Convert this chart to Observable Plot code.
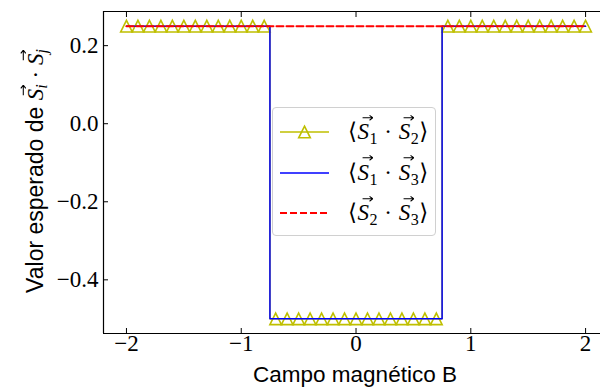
<!DOCTYPE html>
<html><head><meta charset="utf-8">
<script src="https://cdn.jsdelivr.net/npm/d3@7"></script>
<script src="https://cdn.jsdelivr.net/npm/@observablehq/plot@0.6"></script>
<style>
body{margin:0;overflow:hidden;background:#fff}
#wrap{position:relative;width:600px;height:390px;overflow:hidden}
.m{font-family:"Liberation Serif","DejaVu Serif",serif}
.v{position:relative;display:inline-block;font-style:italic;font-family:"Liberation Serif","DejaVu Serif",serif}
.v::after{content:"";position:absolute;left:0.2em;top:-0.14em;width:0.46em;height:0.3em;
  background:url("data:image/svg+xml,%3Csvg xmlns='http://www.w3.org/2000/svg' viewBox='0 0 10 6' preserveAspectRatio='none'%3E%3Cpath d='M0.5 3.2H9.2M6.6 1.1L9.4 3.2L6.6 5.3' fill='none' stroke='black' stroke-width='0.9'/%3E%3C/svg%3E") no-repeat;background-size:100% 100%}
sub{font-size:0.7em;vertical-align:-0.28em;line-height:0}
#xlab{position:absolute;left:0;width:710px;top:362px;text-align:center;font-family:"Liberation Sans",Arial,sans-serif;font-size:22.5px;color:#000;white-space:nowrap}
#ylab{position:absolute;left:35px;top:171px;transform:translate(-50%,-50%) rotate(-90deg);white-space:nowrap;font-family:"Liberation Sans",Arial,sans-serif;font-size:23px;color:#000}
#legend{position:absolute;left:272px;top:107px;width:164px;height:129px;border:1px solid #d0d0d0;border-radius:4px;background:rgba(255,255,255,0.85);box-sizing:border-box}
.row{position:absolute;left:0;height:30px}
.row svg{position:absolute;left:7px;top:0}
.row .t{position:absolute;left:75px;white-space:nowrap;font-size:23px;top:0px;line-height:30px;letter-spacing:0.5px}
</style>
</head><body>
<div id="wrap">
  <div id="chart"></div>
  <div id="ylab">Valor esperado de <span class="m"><span class="v">S</span><sub><i>i</i></sub> · <span class="v">S</span><sub><i>j</i></sub></span></div>
  <div id="xlab">Campo magnético B</div>
  <div id="legend"></div>
</div>
<script>
// Marker samples of <S1·S2>
const markerB = [-2,-1.9,-1.8,-1.7,-1.6,-1.5,-1.4,-1.3,-1.2,-1.1,-1,-0.9,-0.8,-0.7,-0.6,-0.5,-0.4,-0.3,-0.2,-0.1,0,0.1,0.2,0.3,0.4,0.5,0.6,0.7,0.8,0.9,1,1.1,1.2,1.3,1.4,1.5,1.6,1.7,1.8,1.9,2];
const markerS12 = [0.25,0.25,0.25,0.25,0.25,0.25,0.25,0.25,0.25,0.25,0.25,0.25,0.25,-0.5,-0.5,-0.5,-0.5,-0.5,-0.5,-0.5,-0.5,-0.5,-0.5,-0.5,-0.5,-0.5,-0.5,-0.5,0.25,0.25,0.25,0.25,0.25,0.25,0.25,0.25,0.25,0.25,0.25,0.25,0.25];
// Line curves
const lineB = [-2,-0.75,-0.75,0.75,0.75,2];
const lineS12 = [0.25,0.25,-0.5,-0.5,0.25,0.25];
const lineS13 = [0.25,0.25,-0.5,-0.5,0.25,0.25];
const lineB23 = [-2,2];
const lineS23 = [0.25,0.25];
const xTicks = [-2,-1,0,1,2];
const yTicks = [-0.4,-0.2,0.0,0.2];
const seriesNames = [["1","2"],["1","3"],["2","3"]];
const seriesColors = ["#bfbf00","#0000ff","#ff0000"];

const fx = d => (d < 0 ? "\u2212" : "") + Math.abs(d);
const fy = d => (d < 0 ? "\u2212" : "") + Math.abs(d).toFixed(1);
const tri = {draw(ctx, size){ const r = Math.sqrt(size/Math.PI); ctx.moveTo(0,-r); ctx.lineTo(r,r); ctx.lineTo(-r,r); ctx.closePath(); }};

const pts = markerB.map((b,i)=>({b, v: markerS12[i]}));
const l12 = lineB.map((b,i)=>({b, v: lineS12[i]}));
const l13 = lineB.map((b,i)=>({b, v: lineS13[i]}));
const l23 = lineB23.map((b,i)=>({b, v: lineS23[i]}));

const chart = Plot.plot({
  width: 600, height: 390,
  marginLeft: 103, marginRight: 0, marginTop: 11, marginBottom: 57,
  x: {domain: [-2.2, 2.13]},
  y: {domain: [-0.5375, 0.2875]},
  style: {fontFamily: "'Liberation Serif', serif", fontSize: "23px", color: "#000", background: "#fff"},
  marks: [
    Plot.axisX({ticks: xTicks, anchor: "bottom", tickSize: -5, tickPadding: 6, tickFormat: fx, label: null, stroke: "#000"}),
    Plot.axisX({ticks: xTicks, anchor: "top", tickSize: -5, tickFormat: () => "", label: null, stroke: "#000"}),
    Plot.axisY({ticks: yTicks, anchor: "left", tickSize: -5, tickPadding: 10, tickFormat: fy, label: null, stroke: "#000"}),
    Plot.ruleY([-0.5375, 0.2875], {stroke: "#000", strokeWidth: 1.2}),
    Plot.ruleX([-2.2], {stroke: "#000", strokeWidth: 1.2}),
    Plot.line(l12, {x: "b", y: "v", stroke: seriesColors[0], strokeWidth: 1.5}),
    Plot.dot(pts, {x: "b", y: "v", symbol: tri, r: 5.8, stroke: seriesColors[0], strokeWidth: 1.6, fill: "none"}),
    Plot.line(l13, {x: "b", y: "v", stroke: seriesColors[1], strokeWidth: 1.5}),
    Plot.line(l23, {x: "b", y: "v", stroke: seriesColors[2], strokeWidth: 2, strokeDasharray: "7,3"})
  ]
});
document.getElementById("chart").appendChild(chart);

const leg = document.getElementById("legend");
seriesNames.forEach((p, i) => {
  const row = document.createElement("div");
  row.className = "row";
  row.style.top = (9 + i*40.5) + "px";
  const c = seriesColors[i];
  let sample = `<svg width="52" height="30"><line x1="0" x2="49" y1="15" y2="15" stroke="${c}" stroke-width="${i===2?2:1.5}" ${i===2?'stroke-dasharray="7,3"':''}/>`;
  if (i === 0) sample += `<path d="M24.5,9.2 L30.3,20.8 L18.7,20.8 Z" fill="none" stroke="${c}" stroke-width="1.6"/>`;
  sample += `</svg>`;
  row.innerHTML = sample + `<span class="t m">⟨<span class="v">S</span><sub>${p[0]}</sub> · <span class="v">S</span><sub>${p[1]}</sub>⟩</span>`;
  leg.appendChild(row);
});
</script>
</body></html>
